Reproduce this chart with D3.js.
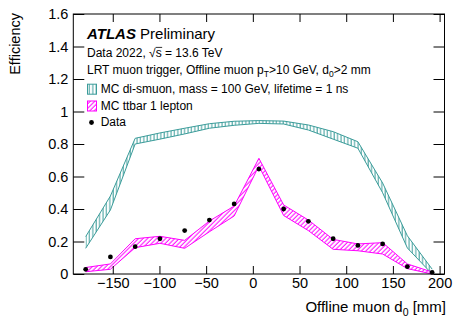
<!DOCTYPE html>
<html>
<head>
<meta charset="utf-8">
<script src="https://cdn.jsdelivr.net/npm/d3@7"></script>
<style>
  body { margin: 0; background: #fff; }
  text { font-family: "Liberation Sans", Arial, Helvetica, sans-serif; fill: #000; }
</style>
</head>
<body>
<svg id="chart" width="453" height="320"></svg>
<script>
// bin centres of offline muon d0 [mm]
const binCenters = [-179, -152.5, -126, -99.5, -73, -46.5, -20, 6.5, 33, 59.5, 86, 112.5, 139, 165.5, 192];

// Data efficiency
const dataEff = [0.029, 0.105, 0.168, 0.217, 0.267, 0.332, 0.431, 0.646, 0.400, 0.324, 0.217, 0.176, 0.185, 0.045, 0.010];

// MC di-smuon band (upper / lower edge)
const smuonHigh = [0.230, 0.480, 0.835, 0.868, 0.897, 0.925, 0.940, 0.944, 0.941, 0.917, 0.876, 0.814, 0.560, 0.235, 0.030];
const smuonLow  = [0.158, 0.394, 0.800, 0.830, 0.862, 0.897, 0.915, 0.927, 0.923, 0.886, 0.830, 0.774, 0.500, 0.160, 0.000];

// MC ttbar band (upper / lower edge)
const ttbarHigh = [0.040, 0.062, 0.217, 0.232, 0.207, 0.326, 0.418, 0.712, 0.425, 0.332, 0.213, 0.185, 0.193, 0.062, 0.012];
const ttbarLow  = [0.014, 0.029, 0.162, 0.189, 0.158, 0.260, 0.357, 0.665, 0.360, 0.267, 0.152, 0.143, 0.123, 0.033, 0.000];

const xTicks = [-150, -100, -50, 0, 50, 100, 150, 200];
const yTicks = [0, 0.2, 0.4, 0.6, 0.8, 1.0, 1.2, 1.4, 1.6];
const yTickLabels = ['0', '0.2', '0.4', '0.6', '0.8', '1', '1.2', '1.4', '1.6'];

const tealColor = '#3b9c9a';
const magentaColor = '#ff00ff';

const plot = { left: 73.3, right: 444.5, top: 14, bottom: 274 };

const svg = d3.select('#chart');

const x = d3.scaleLinear().domain([-192.25, 205.25]).range([plot.left, plot.right]);
const y = d3.scaleLinear().domain([0, 1.6]).range([plot.bottom, plot.top]);

// Hatch patterns
const defs = svg.append('defs');
defs.append('pattern')
  .attr('id', 'hatchTeal')
  .attr('patternUnits', 'userSpaceOnUse')
  .attr('width', 3.4)
  .attr('height', 10)
  .append('line')
  .attr('x1', 1).attr('y1', 0).attr('x2', 1).attr('y2', 10)
  .attr('stroke', tealColor)
  .attr('stroke-width', 1);

defs.append('pattern')
  .attr('id', 'hatchMagenta')
  .attr('patternUnits', 'userSpaceOnUse')
  .attr('width', 3.2)
  .attr('height', 10)
  .attr('patternTransform', 'rotate(45)')
  .append('line')
  .attr('x1', 1).attr('y1', 0).attr('x2', 1).attr('y2', 10)
  .attr('stroke', magentaColor)
  .attr('stroke-width', 1);

// Bands
function drawBand(high, low, color, fillId) {
  const pts = binCenters.map((c, i) => [x(c), y(high[i])])
    .concat(binCenters.map((c, i) => [x(c), y(low[i])]).reverse());
  svg.append('path')
    .attr('d', 'M' + pts.map(p => p.join(',')).join('L') + 'Z')
    .attr('fill', `url(#${fillId})`)
    .attr('stroke', 'none');

  const line = d3.line().x((d) => x(d[0])).y((d) => y(d[1]));
  [high, low].forEach(edge => {
    svg.append('path')
      .attr('d', line(binCenters.map((c, i) => [c, edge[i]])))
      .attr('fill', 'none')
      .attr('stroke', color)
      .attr('stroke-width', 1);
  });
}

drawBand(smuonHigh, smuonLow, tealColor, 'hatchTeal');
drawBand(ttbarHigh, ttbarLow, magentaColor, 'hatchMagenta');

// Data points
svg.append('g')
  .selectAll('circle')
  .data(binCenters)
  .enter()
  .append('circle')
  .attr('cx', (d) => x(d))
  .attr('cy', (d, i) => y(dataEff[i]))
  .attr('r', 2.4)
  .attr('fill', '#000');

// Axes (ticks inside the frame, ROOT style)
const xMinor = d3.range(-190, 201, 10);
const yMinor = d3.range(0, 1.601, 0.05);
const tickFont = '14.5px';

const gxb = svg.append('g').attr('transform', `translate(0,${plot.bottom})`);
gxb.call(d3.axisBottom(x).tickValues(xMinor).tickSize(-4).tickFormat(''));
gxb.call(d3.axisBottom(x).tickValues(xTicks).tickSize(-8).tickPadding(3.5));
gxb.selectAll('text').style('font-size', tickFont);

const gxt = svg.append('g').attr('transform', `translate(0,${plot.top})`);
gxt.call(d3.axisTop(x).tickValues(xMinor).tickSize(-4).tickFormat(''));
gxt.call(d3.axisTop(x).tickValues(xTicks).tickSize(-8).tickFormat(''));

const gyl = svg.append('g').attr('transform', `translate(${plot.left},0)`);
gyl.call(d3.axisLeft(y).tickValues(yMinor).tickSize(-5.5).tickFormat(''));
gyl.call(d3.axisLeft(y).tickValues(yTicks).tickSize(-11).tickPadding(5)
  .tickFormat((d, i) => yTickLabels[i]));
gyl.selectAll('text').style('font-size', tickFont);

const gyr = svg.append('g').attr('transform', `translate(${plot.right},0)`);
gyr.call(d3.axisRight(y).tickValues(yMinor).tickSize(-5.5).tickFormat(''));
gyr.call(d3.axisRight(y).tickValues(yTicks).tickSize(-11).tickFormat(''));

svg.selectAll('.domain').remove();
svg.selectAll('.tick line').attr('stroke', '#000').attr('stroke-width', 1);
svg.selectAll('.tick text').attr('fill', '#000').style('font-family', '"Liberation Sans", Arial, sans-serif');

// Frame
svg.append('rect')
  .attr('x', plot.left).attr('y', plot.top)
  .attr('width', plot.right - plot.left)
  .attr('height', plot.bottom - plot.top)
  .attr('fill', 'none')
  .attr('stroke', '#000')
  .attr('stroke-width', 1);

// Axis titles
const xTitle = svg.append('text')
  .attr('x', 446).attr('y', 312)
  .attr('text-anchor', 'end')
  .style('font-size', '15px');
xTitle.append('tspan').text('Offline muon d');
xTitle.append('tspan').attr('dy', 4).style('font-size', '10.5px').text('0');
xTitle.append('tspan').attr('dy', -4).text(' [mm]');

svg.append('text')
  .attr('transform', 'translate(20,13) rotate(-90)')
  .attr('text-anchor', 'end')
  .style('font-size', '14.5px')
  .text('Efficiency');

// ATLAS label
const atlas = svg.append('text').attr('x', 87).attr('y', 39).style('font-size', '15px');
atlas.append('tspan').style('font-weight', 'bold').style('font-style', 'italic').text('ATLAS');
atlas.append('tspan').text(' Preliminary');

// Data / energy line
const energy = svg.append('text').attr('x', 87).attr('y', 57).style('font-size', '12px');
energy.append('tspan').text('Data 2022, ');
energy.append('tspan').text('\u221A');
energy.append('tspan').text('s');
energy.append('tspan').text(' = 13.6 TeV');
{
  const node = energy.node();
  const sStart = node.getStartPositionOfChar(12);
  const sEnd = node.getEndPositionOfChar(12);
  svg.append('line')
    .attr('x1', sStart.x).attr('x2', sEnd.x + 0.5)
    .attr('y1', 57 - 9.6).attr('y2', 57 - 9.6)
    .attr('stroke', '#000').attr('stroke-width', 0.8);
}

// Selection line
const sel = svg.append('text').attr('x', 87).attr('y', 74).style('font-size', '12px');
sel.append('tspan').text('LRT muon trigger, Offline muon p');
sel.append('tspan').attr('dy', 3).style('font-size', '8.5px').text('T');
sel.append('tspan').attr('dy', -3).text('>10 GeV, d');
sel.append('tspan').attr('dy', 3).style('font-size', '8.5px').text('0');
sel.append('tspan').attr('dy', -3).text('>2 mm');

// Legend
const legendItems = [
  { label: 'MC di-smuon, mass = 100 GeV, lifetime = 1 ns', type: 'band', color: tealColor, fill: 'hatchTeal', yb: 92.7 },
  { label: 'MC ttbar 1 lepton', type: 'band', color: magentaColor, fill: 'hatchMagenta', yb: 109.5 },
  { label: 'Data', type: 'marker', color: '#000', yb: 126 }
];

const legend = svg.append('g');
legendItems.forEach(item => {
  if (item.type === 'band') {
    legend.append('rect')
      .attr('x', 87.5).attr('y', item.yb - 8.5)
      .attr('width', 9).attr('height', 10)
      .attr('fill', `url(#${item.fill})`)
      .attr('stroke', item.color)
      .attr('stroke-width', 1);
  } else {
    legend.append('circle')
      .attr('cx', 91.5).attr('cy', item.yb - 3.5)
      .attr('r', 2.4)
      .attr('fill', item.color);
  }
  legend.append('text')
    .attr('x', 100.7).attr('y', item.yb)
    .style('font-size', '12px')
    .text(item.label);
});
</script>
</body>
</html>
